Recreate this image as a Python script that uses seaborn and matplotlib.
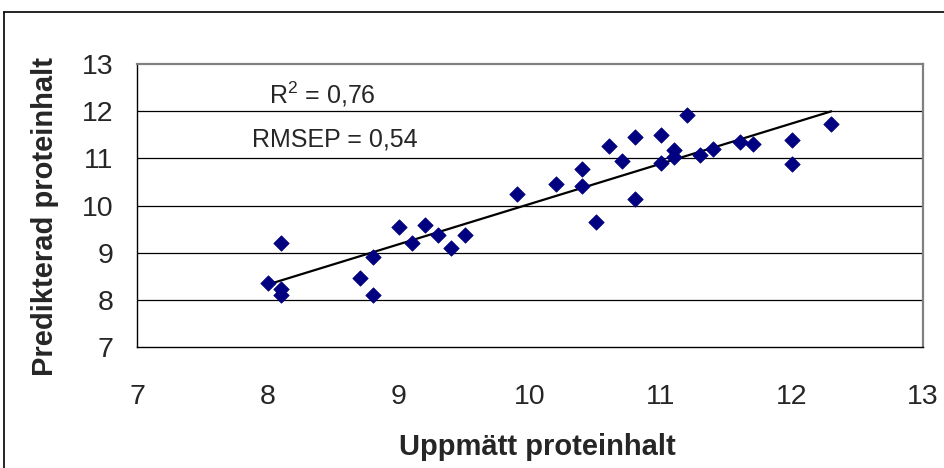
import matplotlib
matplotlib.use("Agg")
import matplotlib.pyplot as plt
import seaborn as sns
import pandas as pd
from matplotlib.lines import Line2D

# Data
measured = [8.0, 8.1, 8.1, 8.1, 8.7, 8.8, 8.8, 9.0, 9.1, 9.2, 9.3, 9.4, 9.5,
            9.9, 10.2, 10.4, 10.4, 10.5, 10.6, 10.7, 10.8, 10.8, 11.0, 11.0,
            11.1, 11.1, 11.2, 11.3, 11.4, 11.6, 11.7, 12.0, 12.0, 12.3]
predicted = [8.36, 9.20, 8.22, 8.10, 8.47, 8.91, 8.10, 9.55, 9.21, 9.59, 9.37,
             9.10, 9.38, 10.25, 10.45, 10.78, 10.42, 9.65, 11.27, 10.95, 11.45,
             10.13, 11.50, 10.90, 11.17, 11.03, 11.92, 11.08, 11.20, 11.35,
             11.30, 11.38, 10.88, 11.72]
x_ticks = [7, 8, 9, 10, 11, 12, 13]
y_ticks = [7, 8, 9, 10, 11, 12, 13]
x_label = "Uppmätt proteinhalt"
y_label = "Predikterad proteinhalt"
annot_r2 = "R$^2$ = 0,76"
annot_rmsep = "RMSEP = 0,54"

df = pd.DataFrame({"x": measured, "y": predicted})

sns.set_style("white")
plt.rcParams['font.family'] = ['Liberation Sans', 'DejaVu Sans']
plt.rcParams['mathtext.fontset'] = 'custom'
plt.rcParams['mathtext.rm'] = 'Liberation Sans'

W, H = 944, 468
fig = plt.figure(figsize=(W / 100, H / 100), dpi=100)
ax = fig.add_axes([137 / W, (H - 347) / H, (923 - 137) / W, (347 - 64) / H])

# horizontal grid
for yv in y_ticks[1:-1]:
    ax.axhline(yv, color="black", lw=0.9, zorder=0)

sns.regplot(data=df, x="x", y="y", scatter=False, ci=None, truncate=True,
            line_kws={"color": "black", "lw": 1.6, "zorder": 2}, ax=ax)
sns.scatterplot(data=df, x="x", y="y", marker="D", s=62, color="#000080",
                edgecolor="#000080", linewidth=0.5, zorder=3, ax=ax)

ax.set_xlim(7, 13)
ax.set_ylim(7, 13)
ax.set_xticks(x_ticks)
ax.set_yticks(y_ticks)
ax.set_xticklabels([str(v) for v in x_ticks])
ax.set_yticklabels([str(v) for v in y_ticks])
ax.tick_params(axis="both", direction="out", length=7, width=0.9,
               color="black", labelsize=20.5)
ax.tick_params(axis="x", pad=20)
ax.tick_params(axis="y", pad=10)

ax.set_xlabel("")
ax.set_ylabel("")
fig.text(537 / W, 1 - 447 / H, x_label, ha="center", va="center",
         fontsize=21, fontweight="bold")
fig.text(45 / W, 1 - 216 / H, y_label, ha="center", va="center",
         fontsize=21, fontweight="bold", rotation=90)

for side in ["left", "bottom"]:
    ax.spines[side].set_color("black")
    ax.spines[side].set_linewidth(1.0)
for side in ["top", "right"]:
    ax.spines[side].set_color("#808080")
    ax.spines[side].set_linewidth(1.6)
    ax.spines[side].set_visible(True)

fig.text(322 / W, 1 - 94 / H, annot_r2, ha="center", va="center", fontsize=18)
fig.text(335 / W, 1 - 140 / H, annot_rmsep, ha="center", va="center", fontsize=18)

# outer chart frame (left and top edges visible)
fig.add_artist(Line2D([4 / W, 4 / W], [0, 1 - 12 / H], transform=fig.transFigure,
                      color="black", lw=1.2))
fig.add_artist(Line2D([4 / W, 1], [1 - 12 / H, 1 - 12 / H], transform=fig.transFigure,
                      color="black", lw=1.2))

fig.savefig("out.png", dpi=100, facecolor="white")
